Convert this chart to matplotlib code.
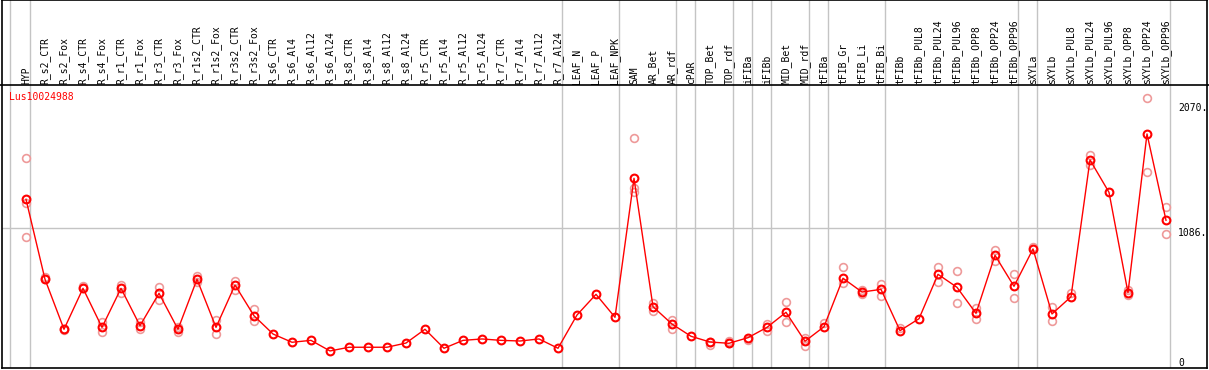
import matplotlib
matplotlib.use("Agg")
import matplotlib.pyplot as plt

labels = ["HYP", "R_s2_CTR", "R_s2_Fox", "R_s4_CTR", "R_s4_Fox", "R_r1_CTR", "R_r1_Fox",
          "R_r3_CTR", "R_r3_Fox", "R_r1s2_CTR", "R_r1s2_Fox", "R_r3s2_CTR", "R_r3s2_Fox",
          "R_s6_CTR", "R_s6_Al4", "R_s6_Al12", "R_s6_Al24", "R_s8_CTR", "R_s8_Al4", "R_s8_Al12",
          "R_s8_Al24", "R_r5_CTR", "R_r5_Al4", "R_r5_Al12", "R_r5_Al24", "R_r7_CTR", "R_r7_Al4",
          "R_r7_Al12", "R_r7_Al24", "LEAF_N", "LEAF_P", "LEAF_NPK", "SAM", "AR_Bet", "AR_rdf",
          "cPAR", "TOP_Bet", "TOP_rdf", "iFIBa", "iFIBb", "MID_Bet", "MID_rdf", "tFIBa",
          "tFIB_Gr", "tFIB_Li", "tFIB_Bi", "tFIBb", "tFIBb_PUL8", "tFIBb_PUL24", "tFIBb_PUL96",
          "tFIBb_OPP8", "tFIBb_OPP24", "tFIBb_OPP96", "sXYLa", "sXYLb", "sXYLb_PUL8",
          "sXYLb_PUL24", "sXYLb_PUL96", "sXYLb_OPP8", "sXYLb_OPP24", "sXYLb_OPP96"]

means = [1311, 684, 292, 613, 307, 613, 320, 574, 292, 684, 307, 639, 398,
         255, 190, 205, 122, 151, 151, 151, 184, 292, 143, 205, 216, 205, 200, 216, 143,
         404, 566, 386, 1476, 469, 333, 237, 192, 182, 226, 307, 425, 198, 312,
         692, 584, 605, 281, 375, 723, 621, 417, 872, 629, 922, 412, 547,
         1620, 1366, 579, 1824, 1147]

replicates = [[1633, 1285, 1013], [702, 684], [292, 288], [634, 613], [349, 273],
              [639, 579], [351, 292], [621, 522], [273, 307], [710, 665], [365, 253],
              [671, 600], [451, 359], [], [], [], [], [], [], [], [], [], [], [], [],
              [], [], [], [], [], [], [], [1790, 1398, 1371], [496, 435], [365, 294],
              [], [166, 192], [200, 182], [208], [333, 281], [504, 347], [221, 163],
              [344], [778, 653], [600, 569], [647, 553], [302], [], [780, 660],
              [747, 496], [461, 375], [914, 830], [723, 535], [940], [464, 355],
              [574], [1659, 1580], [], [600, 561], [2104, 1528], [1249, 1037]]

group_ends = [0, 28, 31, 34, 35, 37, 38, 39, 41, 42, 45, 52, 53, 60]
tick_values = [2070, 1086, 0]
tick_texts = ["2070.", "1086.", "0"]
title = "Lus10024988"

W, H = 1209, 370
fig = plt.figure(figsize=(W / 100, H / 100), dpi=100)
ax = fig.add_axes([2 / W, 2 / H, 1205 / W, 368 / H])

# pixel mapping helpers (style only)
x0px, dxpx = 26.0, 19.0
ypx0, yscale = 366.5, 0.1275


def kx(px):
    return (px - x0px) / dxpx


def vy(py):
    return (ypx0 - py) / yscale


ax.set_xlim(kx(2), kx(1207))
ax.set_ylim(vy(368), vy(0))
for s in ax.spines.values():
    s.set_color("black")
    s.set_linewidth(1.2)
ax.set_xticks([])
ax.set_yticks([])

mono = "DejaVu Sans Mono"
grey = "#c4c4c4"

# vertical group separators
ax.axvline(kx(10), color=grey, lw=1, zorder=1)
for g in group_ends:
    ax.axvline(g + 4 / dxpx, color=grey, lw=1, zorder=1)

# horizontal gridline at middle tick
ax.plot([kx(2), 60 + 4 / dxpx], [tick_values[1]] * 2, color=grey, lw=1, zorder=1)

# header separator
ax.plot([kx(0), kx(1209)], [vy(85)] * 2, color="black", lw=1.2, zorder=3, clip_on=False)

xs = list(range(len(labels)))
for i, lab in enumerate(labels):
    ax.text(i, vy(83.5), lab, rotation=90, ha="center", va="bottom",
            family=mono, fontsize=7, color="black")

# replicates
rx, ry = [], []
for i, reps in enumerate(replicates):
    for r in reps:
        rx.append(i)
        ry.append(r)
ax.plot(rx, ry, linestyle="none", marker="o", ms=5.6, mfc="none",
        mec="#ee9a9a", mew=1.2, zorder=4)

ax.plot(xs, means, color="red", lw=1, zorder=5)
ax.plot(xs, means, linestyle="none", marker="o", ms=5.6, mfc="none",
        mec="red", mew=1.5, zorder=6)

# right tick labels
xl = kx(1178)
ax.text(xl, tick_values[0], tick_texts[0], ha="left", va="top", family=mono, fontsize=7)
ax.text(xl, tick_values[1], tick_texts[1], ha="left", va="top", family=mono, fontsize=7)
ax.text(xl, vy(366), tick_texts[2], ha="left", va="baseline", family=mono, fontsize=7)

ax.text(kx(9), vy(92), title, ha="left", va="top", family=mono, fontsize=7, color="red")

fig.savefig("out.png", dpi=100)
